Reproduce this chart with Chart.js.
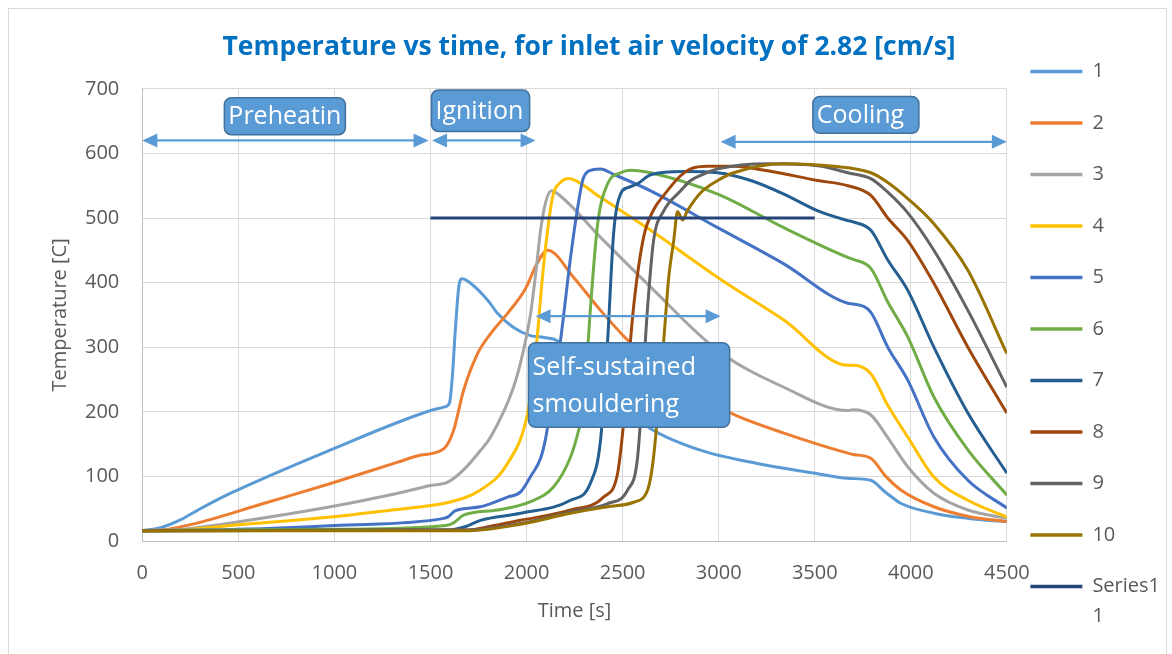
<!DOCTYPE html>
<html>
<head>
<meta charset="utf-8">
<title>Temperature vs time</title>
<script src="https://cdn.jsdelivr.net/npm/chart.js@4.4.1/dist/chart.umd.min.js"></script>
<style>
  html, body { margin: 0; padding: 0; background: #fff; overflow: hidden; }
  #wrap { position: relative; width: 1172px; height: 654px; overflow: hidden; }
  #frame { position: absolute; left: 8px; top: 8px; width: 1157px; height: 700px; border: 1px solid #d9d9d9; pointer-events: none; }
</style>
</head>
<body>
<div id="wrap">
  <canvas id="tempChart" width="1172" height="654"></canvas>
  <div id="frame"></div>
</div>
<script>
// thermocouple readings, time [s] / temperature [C]
const time1 = [0, 100, 200, 290, 460, 980, 1500, 1578, 1600, 1615, 1630, 1648, 1665, 1695, 1800, 1850, 1930, 2020, 2090, 2160, 2300, 2450, 2640, 2900, 3200, 3500, 3670, 3790, 3870, 3950, 4120, 4300, 4500];
const temp1 = [16, 21, 33, 48, 74, 141, 202, 208, 215, 260, 330, 395, 406, 402, 372, 352, 331, 318, 315, 310, 268, 222, 175, 141, 120, 105, 97, 94, 75, 58, 43, 35, 30];

const time2 = [0, 100, 290, 630, 980, 1330, 1450, 1570, 1620, 1672, 1745, 1813, 1900, 1995, 2057, 2110, 2245, 2385, 2526, 2700, 2900, 3063, 3340, 3672, 3700, 3792, 3870, 3948, 4120, 4300, 4500];
const temp2 = [16, 17, 28, 58, 89, 122, 133, 143, 171, 233, 290, 321, 352, 391, 431, 450, 408, 357, 311, 265, 225, 198, 167, 136, 134, 128, 100, 79, 53, 38, 30];

const time3 = [0, 200, 460, 980, 1300, 1500, 1590, 1672, 1760, 1813, 1932, 1980, 2021, 2050, 2073, 2100, 2130, 2160, 2385, 2646, 2995, 3339, 3672, 3700, 3792, 3880, 3984, 4120, 4297, 4500];
const temp3 = [16, 18, 28, 53, 72, 86, 91, 110, 140, 161, 238, 290, 352, 420, 481, 525, 542, 538, 470, 393, 295, 238, 202, 203, 195, 160, 115, 74, 48, 35];

const time4 = [0, 200, 460, 980, 1300, 1500, 1568, 1760, 1901, 2005, 2030, 2057, 2080, 2099, 2135, 2180, 2219, 2260, 2385, 2646, 2995, 3339, 3672, 3700, 3792, 3880, 3984, 4120, 4297, 4500];
const temp4 = [16, 17, 24, 37, 48, 55, 58, 79, 120, 197, 250, 321, 400, 455, 532, 556, 561, 557, 532, 481, 408, 342, 272, 272, 259, 210, 161, 99, 63, 37];

const time5 = [0, 500, 1000, 1568, 1590, 1630, 1760, 1901, 1969, 2021, 2073, 2100, 2125, 2177, 2229, 2266, 2297, 2349, 2385, 2450, 2646, 2995, 3339, 3672, 3700, 3792, 3880, 3984, 4120, 4297, 4500];
const temp5 = [16, 18, 24, 35, 37, 47, 53, 68, 76, 100, 128, 160, 207, 311, 439, 516, 563, 575, 576, 568, 542, 485, 429, 368, 367, 354, 300, 249, 161, 94, 51];

const time6 = [0, 1000, 1580, 1620, 1672, 1849, 2021, 2141, 2229, 2270, 2297, 2333, 2370, 2422, 2490, 2542, 2646, 2995, 3339, 3672, 3700, 3792, 3880, 3984, 4120, 4297, 4500];
const temp6 = [16, 18, 24, 28, 40, 48, 61, 84, 130, 170, 207, 362, 491, 553, 570, 574, 570, 537, 485, 439, 436, 422, 370, 316, 223, 141, 71];

const time7 = [0, 1600, 1680, 1760, 1969, 2229, 2333, 2385, 2422, 2453, 2490, 2526, 2578, 2646, 2818, 2995, 3167, 3339, 3516, 3672, 3700, 3792, 3880, 3984, 4120, 4297, 4500];
const temp7 = [16, 17, 22, 32, 43, 63, 90, 156, 311, 476, 538, 547, 553, 567, 572, 570, 558, 537, 511, 496, 494, 481, 435, 388, 300, 198, 105];

const time8 = [0, 1700, 1800, 1969, 2229, 2401, 2474, 2505, 2557, 2609, 2660, 2714, 2800, 2854, 2943, 3078, 3255, 3516, 3672, 3792, 3880, 3984, 4120, 4297, 4500];
const temp8 = [16, 17, 22, 32, 48, 68, 105, 182, 362, 470, 512, 535, 565, 576, 580, 580, 573, 558, 550, 535, 500, 465, 399, 300, 198];

const time9 = [0, 1700, 1969, 2229, 2422, 2526, 2578, 2630, 2661, 2714, 2802, 2854, 2922, 2995, 3255, 3516, 3672, 3792, 3880, 3984, 4120, 4297, 4500];
const temp9 = [16, 17, 27, 45, 58, 79, 130, 362, 465, 511, 542, 558, 568, 576, 584, 581, 570, 561, 540, 508, 450, 357, 238];

const time10 = [0, 1700, 1969, 2229, 2422, 2557, 2630, 2661, 2714, 2740, 2766, 2786, 2800, 2812, 2837, 2906, 2995, 3078, 3339, 3599, 3792, 3880, 3984, 4120, 4297, 4500];
const temp10 = [16, 16, 26, 43, 53, 60, 79, 130, 311, 408, 465, 510, 503, 497, 511, 539, 558, 570, 584, 580, 570, 555, 530, 491, 419, 290];

const time11 = [1500, 3500];
const temp11 = [500, 500];

const seriesNames = ['1', '2', '3', '4', '5', '6', '7', '8', '9', '10', 'Series11'];
const seriesTimes = [time1, time2, time3, time4, time5, time6, time7, time8, time9, time10, time11];
const seriesTemps = [temp1, temp2, temp3, temp4, temp5, temp6, temp7, temp8, temp9, temp10, temp11];
const seriesColors = ['#5B9BD5', '#ED7D31', '#A5A5A5', '#FFC000', '#4472C4', '#70AD47',
                      '#255E91', '#9E480E', '#636363', '#997300', '#264478'];

// phase markers (data coordinates)
const phaseArrows = [
    {from: 0, to: 1490, temp: 620},
    {from: 1508, to: 2047, temp: 620},
    {from: 3010, to: 4500, temp: 618},
    {from: 2047, to: 3010, temp: 348}
];
const phaseBoxes = [
    {lines: ['Preheatin'], from: 427, to: 1057, top: 686, bottom: 629},
    {lines: ['Ignition'], from: 1505, to: 2016, top: 698, bottom: 634},
    {lines: ['Cooling'], from: 3490, to: 4042, top: 688, bottom: 631},
    {lines: ['Self-sustained', 'smouldering'], from: 2010, to: 3057, top: 307, bottom: 176}
];

const FONT = "'Open Sans', sans-serif";
const GREY = '#595959';
Chart.defaults.font.family = FONT;

const phasePlugin = {
    id: 'phases',
    afterDatasetsDraw(chart) {
        const {ctx, scales: {x, y}} = chart;
        ctx.save();
        ctx.strokeStyle = '#5B9BD5';
        ctx.fillStyle = '#5B9BD5';
        ctx.lineWidth = 2.25;
        const head = 15, half = 7;
        phaseArrows.forEach(a => {
            const x1 = x.getPixelForValue(a.from);
            const x2 = x.getPixelForValue(a.to);
            const yy = y.getPixelForValue(a.temp);
            ctx.beginPath();
            ctx.moveTo(x1 + head - 2, yy);
            ctx.lineTo(x2 - head + 2, yy);
            ctx.stroke();
            ctx.beginPath();
            ctx.moveTo(x1, yy);
            ctx.lineTo(x1 + head, yy - half);
            ctx.lineTo(x1 + head, yy + half);
            ctx.closePath();
            ctx.fill();
            ctx.beginPath();
            ctx.moveTo(x2, yy);
            ctx.lineTo(x2 - head, yy - half);
            ctx.lineTo(x2 - head, yy + half);
            ctx.closePath();
            ctx.fill();
        });

        ctx.font = '25px ' + FONT;
        ctx.textBaseline = 'middle';
        ctx.textAlign = 'left';
        phaseBoxes.forEach(b => {
            const left = x.getPixelForValue(b.from);
            const right = x.getPixelForValue(b.to);
            const top = y.getPixelForValue(b.top);
            const bottom = y.getPixelForValue(b.bottom);
            ctx.beginPath();
            ctx.roundRect(left, top, right - left, bottom - top, 7);
            ctx.fillStyle = '#5B9BD5';
            ctx.fill();
            ctx.lineWidth = 1.5;
            ctx.strokeStyle = '#41719C';
            ctx.stroke();
            ctx.fillStyle = '#ffffff';
            const step = 37;
            const mid = (top + bottom) / 2;
            b.lines.forEach((line, i) => {
                ctx.fillText(line, left + 4, mid + (i - (b.lines.length - 1) / 2) * step + 1);
            });
        });
        ctx.restore();
    }
};

// legend sits a bit closer to the plot than chart.js would put it
const legendNudge = {
    id: 'legendNudge',
    afterLayout(chart) {
        chart.legend.left -= 8;
        chart.legend.right -= 8;
    }
};

const datasets = seriesNames.map((name, i) => ({
    label: name,
    data: seriesTimes[i].map((t, j) => ({x: t, y: seriesTemps[i][j]})),
    borderColor: seriesColors[i],
    backgroundColor: seriesColors[i],
    borderWidth: 3,
    pointRadius: 0,
    pointHoverRadius: 0,
    fill: false,
    cubicInterpolationMode: 'monotone',
    order: seriesNames.length - i   // later series on top, as in the sheet
}));

const ctx = document.getElementById('tempChart').getContext('2d');
new Chart(ctx, {
    type: 'line',
    data: {datasets},
    plugins: [phasePlugin, legendNudge],
    options: {
        responsive: false,
        animation: false,
        layout: {padding: {left: 0, right: -6, top: 0, bottom: -14}},
        scales: {
            x: {
                type: 'linear',
                min: 0,
                max: 4500,
                ticks: {stepSize: 500, color: GREY, font: {size: 20}, padding: 20, maxRotation: 0,
                        callback: v => String(v)},
                grid: {color: '#D9D9D9', drawTicks: false},
                border: {color: '#BFBFBF', width: 1},
                title: {display: true, text: 'Time [s]', color: GREY, font: {size: 20},
                        padding: {top: -6, bottom: 45}}
            },
            y: {
                min: 0,
                max: 700,
                ticks: {stepSize: 100, color: GREY, font: {size: 20}, padding: 23},
                grid: {color: '#D9D9D9', drawTicks: false},
                border: {color: '#BFBFBF', width: 1},
                title: {display: true, text: 'Temperature [C]', color: GREY, font: {size: 20},
                        padding: {top: 48, bottom: -10}}
            }
        },
        plugins: {
            title: {
                display: true,
                text: 'Temperature vs time, for inlet air velocity of 2.82 [cm/s]',
                color: '#0070C0',
                font: {size: 26.5, weight: 'bold'},
                padding: {top: 32, bottom: 25}
            },
            legend: {
                position: 'right',
                align: 'end',
                labels: {
                    color: GREY,
                    font: {size: 20, lineHeight: 1.5},
                    usePointStyle: true,
                    pointStyle: 'line',
                    pointStyleWidth: 52,
                    padding: 31.5,
                    sort: (a, b) => a.datasetIndex - b.datasetIndex,
                    generateLabels(chart) {
                        const items = Chart.defaults.plugins.legend.labels.generateLabels(chart);
                        items.forEach(item => {
                            item.lineWidth = 3.5;
                            if (item.text === 'Series11') item.text = ['Series1', '1'];
                        });
                        return items;
                    }
                }
            },
            tooltip: {enabled: false}
        }
    }
});
</script>
</body>
</html>
